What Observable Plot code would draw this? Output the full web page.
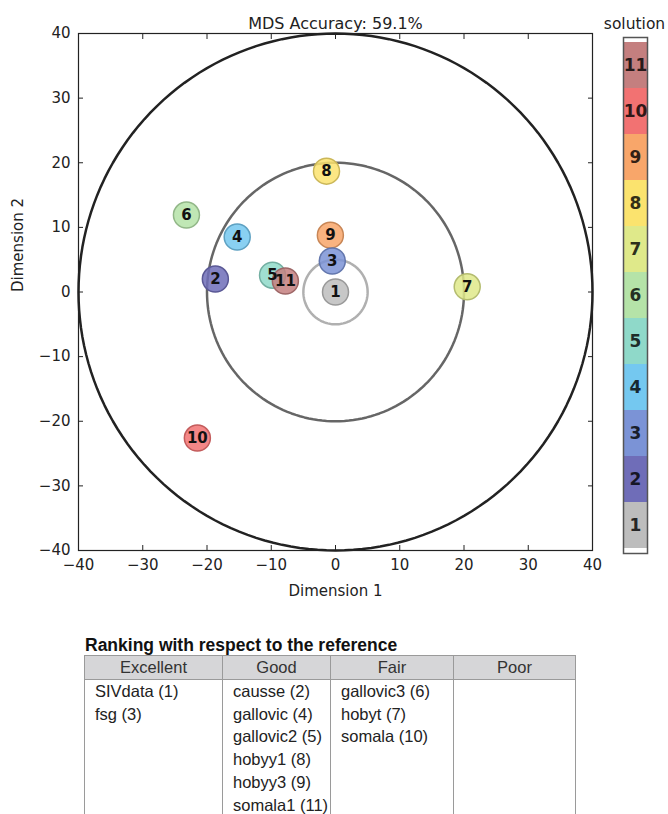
<!DOCTYPE html>
<html><head><meta charset="utf-8">
<script src="https://cdn.jsdelivr.net/npm/d3@7"></script>
<script src="https://cdn.jsdelivr.net/npm/@observablehq/plot@0.6"></script>
<style>
body{margin:0;background:#fff;}
#wrap{position:relative;width:668px;height:814px;overflow:hidden;font-family:"DejaVu Sans",sans-serif;}
#main{position:absolute;left:0;top:0;}
#cbar{position:absolute;left:617px;top:30px;}
#rank{position:absolute;left:84px;top:636px;font-family:"Liberation Sans",Arial,sans-serif;}
#rank .ttl{font-weight:bold;font-size:17.5px;color:#111;margin-left:1px;height:19px;line-height:19px;}
#rank table{border-collapse:collapse;margin-top:0px;}
#rank th{background:#d6d6d8;border:1px solid #9a9a9a;font-weight:normal;font-size:16.5px;color:#333;height:23px;padding:0;}
#rank td{border:1px solid #9a9a9a;vertical-align:top;font-size:16.5px;color:#222;line-height:22.7px;padding:0 0 0 10px;height:150px;}
</style></head>
<body><div id="wrap"><div id="main"></div><div id="cbar"></div><div id="rank"></div></div>
<script>
// ---- data ----
const solutionIds = [1,2,3,4,5,6,7,8,9,10,11];
const dim1 = [0, -18.7, -0.5, -15.3, -9.8, -23.2, 20.5, -1.4, -0.8, -21.5, -7.8];
const dim2 = [0, 2.0, 4.8, 8.5, 2.6, 11.9, 0.8, 18.7, 8.8, -22.6, 1.7];
const solutionColors = ["#bdbdbd","#6f6db8","#7b93d6","#74c8f0","#8fd9c9","#b5e3a8","#dfe98a","#fbe36e","#f8a66a","#f27272","#c47f7f"];
const ringRadii = [5, 20, 40];
const ringColors = ["#b0b0b0", "#666666", "#222222"];
const axisTicks = [-40,-30,-20,-10,0,10,20,30,40];
const accuracy = 59.1;
const rankCategories = ["Excellent","Good","Fair","Poor"];
const rankMembers = [
  ["SIVdata (1)","fsg (3)"],
  ["causse (2)","gallovic (4)","gallovic2 (5)","hobyy1 (8)","hobyy3 (9)","somala1 (11)"],
  ["gallovic3 (6)","hobyt (7)","somala (10)"],
  []
];

// ---- build tables ----
const points = solutionIds.map((id,i)=>({id, x: dim1[i], y: dim2[i], color: solutionColors[i]}));
const drawOrder = [0,1,3,4,5,6,7,8,2,9,10].map(i=>points[i]);
const rings = [];
ringRadii.forEach((r,k)=>{
  for(let a=0;a<=360;a+=2){
    const t=a*Math.PI/180;
    rings.push({ring:k, x:r*Math.cos(t), y:r*Math.sin(t)});
  }
});
const colorOf = new Map(points.map(p=>[p.id,p.color]));

const main = Plot.plot({
  width: 668, height: 610,
  marginLeft: 78, marginRight: 76, marginTop: 33, marginBottom: 60,
  style: {fontFamily: "DejaVu Sans, sans-serif", fontSize: "15px", color: "#222", background: "#fff"},
  x: {domain: [-40,40], ticks: axisTicks, label: null},
  y: {domain: [-40,40], ticks: axisTicks, label: null},
  marks: [
    Plot.line(rings, {x:"x", y:"y", z:"ring", stroke: d=>ringColors[d.ring], strokeWidth: 2.5}),
    Plot.frame({stroke:"#222", strokeWidth:1.2}),
    Plot.axisX({anchor:"bottom", ticks: axisTicks, tickSize:-5, tickPadding: 14, fontSize: 15, label: null}),
    Plot.axisX({anchor:"top", ticks: axisTicks, tickSize:-5, tickFormat: ()=>"", label: null}),
    Plot.axisY({anchor:"left", ticks: axisTicks, tickSize:-5, tickPadding: 13, fontSize: 15, label: null}),
    Plot.axisY({anchor:"right", ticks: axisTicks, tickSize:-5, tickFormat: ()=>"", label: null}),
    Plot.dot(drawOrder, {x:"x", y:"y", r: 13, fill: d=>d.color, fillOpacity: 0.85,
      stroke: d=>d3.color(d.color).darker(0.6).formatHex(), strokeWidth: 1.5}),
    Plot.text(drawOrder, {x:"x", y:"y", text: d=>String(d.id), fontWeight:"bold", fontSize: 15, fill:"#111"}),
    Plot.text([`MDS Accuracy: ${accuracy}%`], {frameAnchor:"top", dy:-16, fontSize:16, fill:"#222"}),
    Plot.text(["solution"], {frameAnchor:"top-right", textAnchor:"middle", dx:42, dy:-16, fontSize:15.5, fill:"#222"}),
    Plot.text(["Dimension 1"], {frameAnchor:"bottom", dy:45, fontSize:15, fill:"#222"}),
    Plot.text(["Dimension 2"], {frameAnchor:"left", dx:-60, rotate:-90, fontSize:15, fill:"#222"})
  ]
});
document.getElementById("main").appendChild(main);

const cbar = Plot.plot({
  width: 40, height: 540,
  marginLeft: 6, marginRight: 10, marginTop: 7, marginBottom: 17,
  style: {fontFamily: "DejaVu Sans, sans-serif", background: "transparent"},
  x: {domain:[0,1], axis: null},
  y: {type:"band", domain: solutionIds.slice().reverse(), padding: 0, axis: null},
  marks: [
    Plot.barX(solutionIds, {y: d=>d, x1: 0, x2: 1, fill: d=>colorOf.get(d)}),
    Plot.frame({stroke:"#555", strokeWidth:1.5}),
    Plot.text(solutionIds, {y: d=>d, x: 0.5, text: d=>String(d), fontWeight:"bold", fontSize: 17,
      fill: d=>d3.color(colorOf.get(d)).darker(4.5).formatHex()})
  ]
});
document.getElementById("cbar").appendChild(cbar);

// ranking table
const widths = [137,107,122,121];
let html = `<div class="ttl">Ranking with respect to the reference</div><table><tr>`;
rankCategories.forEach((c,i)=>{ html += `<th style="width:${widths[i]}px">${c}</th>`; });
html += `</tr><tr>`;
rankMembers.forEach(list=>{ html += `<td>${list.join("<br>")}</td>`; });
html += `</tr></table>`;
document.getElementById("rank").innerHTML = html;
</script></body></html>
